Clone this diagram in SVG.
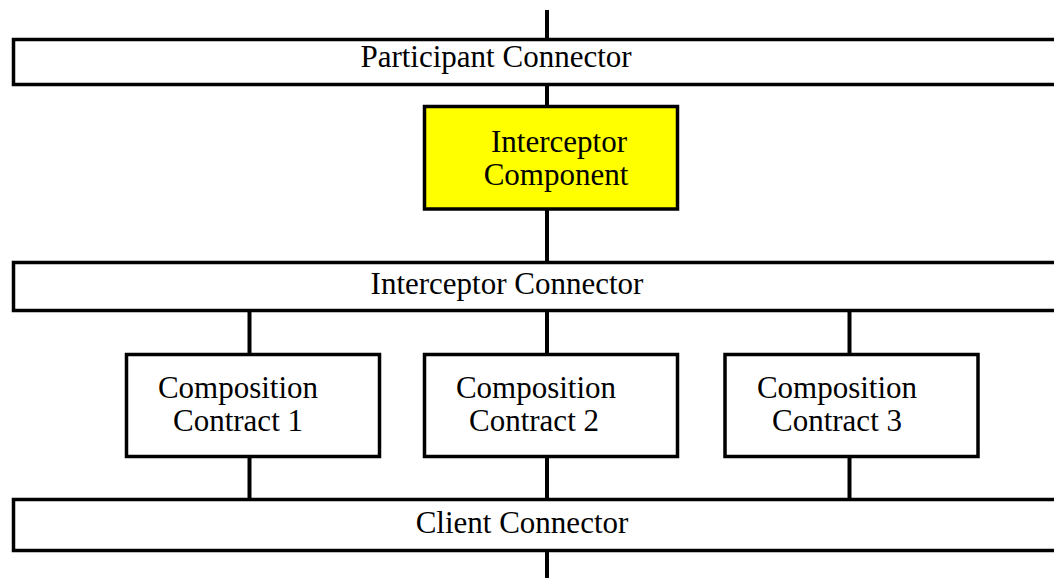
<svg xmlns="http://www.w3.org/2000/svg" width="1054" height="581" viewBox="0 0 1054 581">
  <style>
    .box { fill: #ffffff; stroke: #000000; stroke-width: 3.5; }
    .hot { fill: #ffff00; stroke: #000000; stroke-width: 3.5; }
    .wire { stroke: #000000; stroke-width: 4; fill: none; }
    .lbl { font-family: "Liberation Serif", "Times New Roman", serif; font-size: 31px; fill: #000000; text-anchor: middle; }
  </style>

  <g id="connectors">
    <line class="wire" x1="547" y1="10" x2="547" y2="39"/>
    <line class="wire" x1="547" y1="86" x2="547" y2="106"/>
    <line class="wire" x1="547" y1="210" x2="547" y2="262"/>
    <line class="wire" x1="249.5" y1="312" x2="249.5" y2="354"/>
    <line class="wire" x1="547" y1="312" x2="547" y2="354"/>
    <line class="wire" x1="849.5" y1="312" x2="849.5" y2="354"/>
    <line class="wire" x1="249.5" y1="458" x2="249.5" y2="499"/>
    <line class="wire" x1="547" y1="458" x2="547" y2="499"/>
    <line class="wire" x1="849.5" y1="458" x2="849.5" y2="499"/>
    <line class="wire" x1="547" y1="552" x2="547" y2="578"/>
  </g>

  <g id="participant-connector">
    <rect class="box" x="13.5" y="39.5" width="1060" height="45"/>
    <text class="lbl" x="496" y="67">Participant Connector</text>
  </g>

  <g id="interceptor-component">
    <rect class="hot" x="424.5" y="106.5" width="253" height="102.5"/>
    <text class="lbl" x="559" y="152">Interceptor</text>
    <text class="lbl" x="556" y="185">Component</text>
  </g>

  <g id="interceptor-connector">
    <rect class="box" x="13.5" y="262.5" width="1060" height="48"/>
    <text class="lbl" x="507" y="294">Interceptor Connector</text>
  </g>

  <g id="composition-contract-1">
    <rect class="box" x="126.5" y="354.5" width="253" height="102"/>
    <text class="lbl" x="238" y="398">Composition</text>
    <text class="lbl" x="238" y="431">Contract 1</text>
  </g>

  <g id="composition-contract-2">
    <rect class="box" x="424.5" y="354.5" width="253" height="102"/>
    <text class="lbl" x="536" y="398">Composition</text>
    <text class="lbl" x="534" y="431">Contract 2</text>
  </g>

  <g id="composition-contract-3">
    <rect class="box" x="725" y="354.5" width="253" height="102"/>
    <text class="lbl" x="837" y="398">Composition</text>
    <text class="lbl" x="837" y="431">Contract 3</text>
  </g>

  <g id="client-connector">
    <rect class="box" x="13.5" y="499.5" width="1060" height="51"/>
    <text class="lbl" x="522" y="533">Client Connector</text>
  </g>
</svg>
